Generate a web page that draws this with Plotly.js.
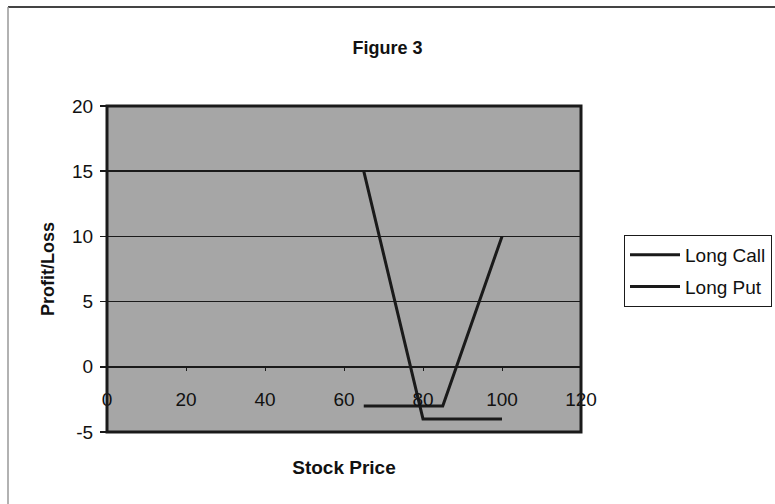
<!DOCTYPE html>
<html>
<head>
<meta charset="utf-8">
<script src="https://cdn.plot.ly/plotly-3.0.1.min.js"></script>
<style>
html,body{margin:0;padding:0;background:#fff;}
#chart{width:775px;height:504px;}
</style>
</head>
<body>
<div id="chart"></div>
<script>
// Data
const seriesNames = ["Long Call", "Long Put"];
const callPrice = [65, 85, 100];
const callPL    = [-3, -3, 10];
const putPrice  = [65, 80, 100];
const putPL     = [15, -4, -4];
const xTicks = [0, 20, 40, 60, 80, 100, 120];
const yTicks = [-5, 0, 5, 10, 15, 20];

const FONT = "Liberation Sans, Arial, sans-serif";

const traces = [
  {x: callPrice, y: callPL, name: seriesNames[0], mode: "lines",
   line: {color: "#1a1a1a", width: 3}, legendgroup: "a"},
  {x: putPrice, y: putPL, name: seriesNames[1], mode: "lines",
   line: {color: "#1a1a1a", width: 3}, legendgroup: "b"}
];

const layout = {
  width: 775, height: 504,
  margin: {l: 107, r: 194, t: 106, b: 72, autoexpand: false},
  paper_bgcolor: "#ffffff",
  plot_bgcolor: "#a6a6a6",
  font: {family: FONT, color: "#111", size: 19},
  title: {text: "<b>Figure 3</b>", font: {family: FONT, size: 18, color: "#111"},
          xref: "container", x: 0.5, xanchor: "center",
          yref: "container", y: 1 - 48/504, yanchor: "middle"},
  xaxis: {
    range: [0, 120], tickvals: xTicks, ticktext: xTicks.map(String),
    anchor: "free", position: 0.2,
    showline: true, linecolor: "#1a1a1a", linewidth: 2,
    ticks: "outside", ticklen: 3, tickcolor: "#1a1a1a",
    ticklabelstandoff: 12,
    showgrid: false, zeroline: false,
    tickfont: {family: FONT, size: 19, color: "#111"},
    title: {text: "<b>Stock Price</b>", font: {family: FONT, size: 19, color: "#111"}, standoff: 51},
    fixedrange: true
  },
  yaxis: {
    range: [-5, 20], tickvals: yTicks, ticktext: yTicks.map(String),
    showline: false,
    ticks: "outside", ticklen: 6, tickcolor: "#1a1a1a", tickwidth: 1.5,
    ticklabelstandoff: 3,
    showgrid: true, gridcolor: "#1a1a1a", gridwidth: 1.5,
    zeroline: false,
    tickfont: {family: FONT, size: 19, color: "#111"},
    title: {text: "<b>Profit/Loss</b>", font: {family: FONT, size: 18, color: "#111"}, standoff: 12},
    fixedrange: true
  },
  legend: {
    x: (624-107)/474, xanchor: "left",
    y: (432-235)/326, yanchor: "top",
    bgcolor: "#ffffff", bordercolor: "#1a1a1a", borderwidth: 1,
    font: {family: FONT, size: 19, color: "#111"},
    traceorder: "grouped", tracegroupgap: 4,
    itemwidth: 50
  },
  shapes: [
    {type: "rect", xref: "paper", yref: "paper", x0: 0, x1: 1, y0: 0, y1: 1,
     line: {color: "#1a1a1a", width: 3}, fillcolor: "rgba(0,0,0,0)", layer: "above"},
    {type: "line", xref: "paper", yref: "paper", x0: (8-107)/474, x1: 1.5, y0: (432-7)/326, y1: (432-7)/326,
     line: {color: "#444", width: 2}},
    {type: "line", xref: "paper", yref: "paper", x0: (8-107)/474, x1: (8-107)/474, y0: (432-7)/326, y1: -0.3,
     line: {color: "#999", width: 1.5}}
  ],
  showlegend: true
};

Plotly.newPlot("chart", traces, layout, {displayModeBar: false, staticPlot: true});
</script>
</body>
</html>
